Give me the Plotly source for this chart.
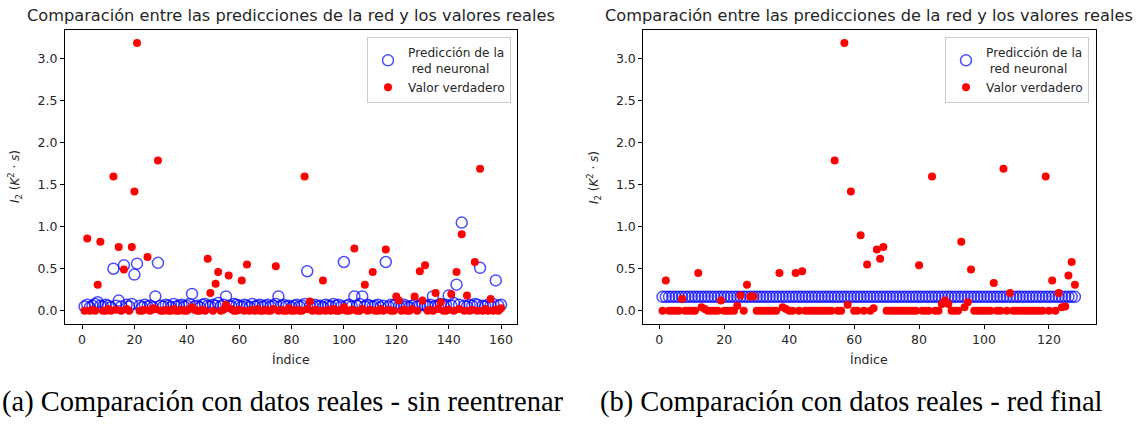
import plotly.graph_objects as go

W, H = 1141, 425

# ---------------- data ----------------
left_idx = list(range(1, 161))
left_pred = [
    0.05, 0.07, 0.04, 0.06, 0.08, 0.10, 0.06, 0.05, 0.07, 0.06,
    0.04, 0.50, 0.06, 0.12, 0.05, 0.54, 0.07, 0.05, 0.08, 0.43,
    0.56, 0.06, 0.04, 0.07, 0.05, 0.06, 0.04, 0.17, 0.57, 0.06,
    0.05, 0.07, 0.06, 0.04, 0.08, 0.05, 0.06, 0.07, 0.05, 0.06,
    0.08, 0.20, 0.05, 0.06, 0.04, 0.07, 0.08, 0.06, 0.05, 0.07,
    0.06, 0.09, 0.05, 0.07, 0.17, 0.06, 0.05, 0.08, 0.07, 0.06,
    0.05, 0.07, 0.06, 0.04, 0.08, 0.05, 0.06, 0.07, 0.05, 0.06,
    0.07, 0.05, 0.06, 0.08, 0.17, 0.06, 0.07, 0.05, 0.06, 0.04,
    0.06, 0.07, 0.05, 0.06, 0.08, 0.47, 0.05, 0.06, 0.07, 0.05,
    0.06, 0.04, 0.07, 0.06, 0.05, 0.08, 0.06, 0.07, 0.05, 0.58,
    0.06, 0.07, 0.05, 0.17, 0.06, 0.08, 0.17, 0.05, 0.07, 0.06,
    0.05, 0.06, 0.07, 0.04, 0.06, 0.58, 0.05, 0.07, 0.06, 0.08,
    0.05, 0.06, 0.07, 0.05, 0.04, 0.06, 0.07, 0.05, 0.06, 0.08,
    0.06, 0.05, 0.07, 0.17, 0.06, 0.05, 0.08, 0.06, 0.07, 0.18,
    0.06, 0.09, 0.31, 0.07, 1.05, 0.06, 0.05, 0.07, 0.06, 0.08,
    0.07, 0.51, 0.06, 0.05, 0.07, 0.06, 0.08, 0.36, 0.06, 0.07,
]
left_true = [
    0.00, 0.86, 0.00, 0.01, 0.00, 0.31, 0.82, 0.00, 0.00, 0.02,
    0.00, 1.60, 0.01, 0.76, 0.00, 0.49, 0.02, 0.00, 0.76, 1.42,
    3.19, 0.00, 0.00, 0.01, 0.64, 0.00, 0.03, 0.02, 1.79, 0.00,
    0.00, 0.01, 0.00, 0.00, 0.02, 0.00, 0.00, 0.01, 0.00, 0.00,
    0.02, 0.04, 0.01, 0.00, 0.00, 0.01, 0.00, 0.62, 0.21, 0.00,
    0.32, 0.46, 0.00, 0.01, 0.07, 0.42, 0.02, 0.00, 0.00, 0.01,
    0.36, 0.00, 0.55, 0.00, 0.01, 0.00, 0.02, 0.00, 0.00, 0.01,
    0.00, 0.00, 0.02, 0.53, 0.00, 0.01, 0.00, 0.00, 0.03, 0.00,
    0.00, 0.01, 0.00, 0.00, 1.60, 0.02, 0.11, 0.00, 0.01, 0.00,
    0.00, 0.36, 0.00, 0.01, 0.00, 0.02, 0.00, 0.00, 0.01, 0.04,
    0.00, 0.00, 0.01, 0.74, 0.00, 0.00, 0.02, 0.31, 0.00, 0.01,
    0.46, 0.00, 0.00, 0.02, 0.00, 0.73, 0.01, 0.00, 0.00, 0.17,
    0.12, 0.00, 0.01, 0.00, 0.00, 0.02, 0.17, 0.00, 0.47, 0.12,
    0.54, 0.00, 0.01, 0.00, 0.21, 0.02, 0.10, 0.00, 0.00, 0.01,
    0.20, 0.00, 0.46, 0.02, 0.91, 0.00, 0.18, 0.00, 0.01, 0.58,
    0.00, 1.69, 0.00, 0.02, 0.00, 0.14, 0.00, 0.01, 0.00, 0.03,
]

right_idx = list(range(1, 129))
right_pred = [
    0.165, 0.165, 0.165, 0.165, 0.165, 0.165, 0.165, 0.165, 0.165, 0.165, 0.165, 0.165, 0.165, 0.165, 0.165, 0.165,
    0.165, 0.165, 0.165, 0.165, 0.165, 0.165, 0.165, 0.165, 0.165, 0.165, 0.165, 0.165, 0.165, 0.165, 0.165, 0.165,
    0.165, 0.165, 0.165, 0.165, 0.165, 0.165, 0.165, 0.165, 0.165, 0.165, 0.165, 0.165, 0.165, 0.165, 0.165, 0.165,
    0.165, 0.165, 0.165, 0.165, 0.165, 0.165, 0.165, 0.165, 0.165, 0.165, 0.165, 0.165, 0.165, 0.165, 0.165, 0.165,
    0.165, 0.165, 0.165, 0.165, 0.165, 0.165, 0.165, 0.165, 0.165, 0.165, 0.165, 0.165, 0.165, 0.165, 0.165, 0.165,
    0.165, 0.165, 0.165, 0.165, 0.165, 0.165, 0.165, 0.165, 0.165, 0.165, 0.165, 0.165, 0.165, 0.165, 0.165, 0.165,
    0.165, 0.165, 0.165, 0.165, 0.165, 0.165, 0.165, 0.165, 0.165, 0.165, 0.165, 0.165, 0.165, 0.165, 0.165, 0.165,
    0.165, 0.165, 0.165, 0.165, 0.165, 0.165, 0.165, 0.165, 0.165, 0.165, 0.165, 0.165, 0.165, 0.165, 0.165, 0.165,
]
right_true = [
    0.00, 0.36, 0.00, 0.00, 0.00, 0.00, 0.14, 0.00, 0.00, 0.00, 0.00, 0.45, 0.04, 0.02, 0.00, 0.00,
    0.00, 0.00, 0.12, 0.00, 0.00, 0.00, 0.00, 0.06, 0.18, 0.00, 0.31, 0.17, 0.17, 0.00, 0.00, 0.00,
    0.00, 0.00, 0.00, 0.00, 0.45, 0.04, 0.02, 0.00, 0.00, 0.45, 0.00, 0.47, 0.00, 0.00, 0.00, 0.00,
    0.00, 0.00, 0.00, 0.00, 0.00, 1.79, 0.00, 0.00, 3.19, 0.07, 1.42, 0.00, 0.00, 0.90, 0.00, 0.55,
    0.00, 0.03, 0.73, 0.62, 0.76, 0.00, 0.00, 0.00, 0.00, 0.00, 0.00, 0.00, 0.00, 0.00, 0.00, 0.54,
    0.00, 0.00, 0.00, 1.60, 0.00, 0.00, 0.08, 0.12, 0.08, 0.00, 0.00, 0.00, 0.82, 0.04, 0.10, 0.49,
    0.00, 0.00, 0.00, 0.00, 0.00, 0.00, 0.33, 0.00, 0.00, 1.69, 0.00, 0.21, 0.00, 0.00, 0.00, 0.00,
    0.00, 0.00, 0.00, 0.00, 0.00, 0.00, 1.60, 0.00, 0.36, 0.00, 0.21, 0.04, 0.05, 0.42, 0.58, 0.31,
]

y_ticks = [0.0, 0.5, 1.0, 1.5, 2.0, 2.5, 3.0]
left_x_ticks = [0, 20, 40, 60, 80, 100, 120, 140, 160]
right_x_ticks = [0, 20, 40, 60, 80, 100, 120]

title_text = "Comparación entre las predicciones de la red y los valores reales"
pred_name = "Predicción de la<br>&nbsp;red neuronal"
true_name = "Valor verdadero"
x_label = "Índice"
y_label = "<i>I</i><sub>2</sub> (<i>K</i><sup>2</sup> · <i>s</i>)"
caption_a = "(a) Comparación con datos reales - sin reentrenar"
caption_b = "(b) Comparación con datos reales - red final"

# ---------------- layout helpers ----------------
def px(x):
    return x / W

def py(y):
    return 1 - y / H

FONT = "DejaVu Sans"
TXT = "#262626"
BLUE = "rgba(0,0,255,0.7)"
RED = "#ff0000"

fig = go.Figure()

def add_pair(xs, pred, true, xa, ya, legend):
    fig.add_trace(go.Scatter(
        x=xs, y=pred, mode="markers", name=pred_name,
        xaxis=xa, yaxis=ya, legend=legend,
        marker=dict(symbol="circle-open", size=11, color=BLUE,
                    line=dict(width=1.5, color=BLUE)),
    ))
    fig.add_trace(go.Scatter(
        x=xs, y=true, mode="markers", name=true_name,
        xaxis=xa, yaxis=ya, legend=legend,
        marker=dict(symbol="circle", size=8, color=RED),
    ))

add_pair(left_idx, left_pred, left_true, "x", "y", "legend")
add_pair(right_idx, right_pred, right_true, "x2", "y2", "legend2")

axis_common = dict(
    showline=True, linecolor="black", linewidth=1, mirror=True,
    ticks="outside", ticklen=4, tickwidth=1, tickcolor="black",
    showgrid=False, zeroline=False,
    tickfont=dict(family=FONT, size=12.5, color=TXT),
)

Y_TOP, Y_BOT = 30, 324
LX0, LX1 = 65, 517
RX0, RX1 = 643.3, 1095.7

legend_common = dict(
    yanchor="top", y=py(37), xanchor="right",
    bordercolor="#cccccc", borderwidth=1,
    bgcolor="rgba(255,255,255,0.8)",
    font=dict(family=FONT, size=12.2, color=TXT),
)

fig.update_layout(
    width=W, height=H,
    margin=dict(l=0, r=0, t=0, b=0),
    paper_bgcolor="white", plot_bgcolor="white",
    xaxis=dict(domain=[px(LX0), px(LX1)], range=[-6.5, 166.1],
               tickvals=left_x_ticks, anchor="y", **axis_common),
    yaxis=dict(domain=[py(Y_BOT), py(Y_TOP)], range=[-0.159, 3.345],
               tickvals=y_ticks, tickformat=".1f", anchor="x", **axis_common),
    xaxis2=dict(domain=[px(RX0), px(RX1)], range=[-4.93, 134.4],
                tickvals=right_x_ticks, anchor="y2", **axis_common),
    yaxis2=dict(domain=[py(Y_BOT), py(Y_TOP)], range=[-0.159, 3.345],
                tickvals=y_ticks, tickformat=".1f", anchor="x2", **axis_common),
    legend=dict(x=px(511), **legend_common),
    legend2=dict(x=px(1089), **legend_common),
    showlegend=True,
)

annotations = []
for cx in [(LX0 + LX1) / 2, (RX0 + RX1) / 2]:
    annotations.append(dict(text=title_text, x=px(cx), y=py(16), xref="paper", yref="paper",
                            xanchor="center", yanchor="middle", showarrow=False,
                            font=dict(family=FONT, size=16.2, color=TXT)))
    annotations.append(dict(text=x_label, x=px(cx), y=py(359), xref="paper", yref="paper",
                            xanchor="center", yanchor="middle", showarrow=False,
                            font=dict(family=FONT, size=12.5, color=TXT)))
for lx in [15, 594]:
    annotations.append(dict(text=y_label, x=px(lx), y=py(177), xref="paper", yref="paper",
                            xanchor="center", yanchor="middle", showarrow=False, textangle=-90,
                            font=dict(family=FONT, size=12, color=TXT)))
annotations.append(dict(text=caption_a, x=px(0), y=py(402), xref="paper", yref="paper",
                        xanchor="left", yanchor="middle", showarrow=False,
                        font=dict(family="Liberation Serif", size=28.5, color="black")))
annotations.append(dict(text=caption_b, x=px(598), y=py(402), xref="paper", yref="paper",
                        xanchor="left", yanchor="middle", showarrow=False,
                        font=dict(family="Liberation Serif", size=28.5, color="black")))
fig.update_layout(annotations=annotations)

fig.write_html("out.html")
